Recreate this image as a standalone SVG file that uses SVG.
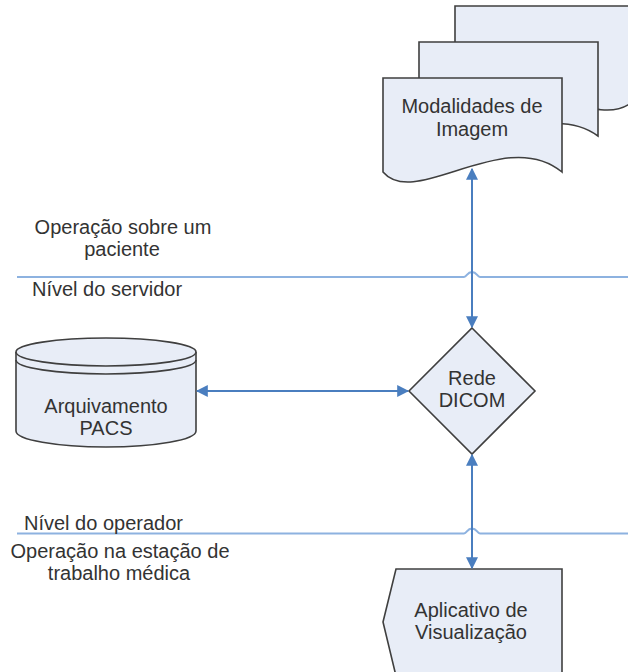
<svg xmlns="http://www.w3.org/2000/svg" width="628" height="672" viewBox="0 0 628 672">
<defs>
<style>
.shape{fill:#E8EDF7;stroke:#3F3F3F;stroke-width:1.6}
.lbl{font-family:"Liberation Sans",Arial,sans-serif;font-size:20px;fill:#333333;text-anchor:middle}
.lft{font-family:"Liberation Sans",Arial,sans-serif;font-size:20px;fill:#333333}
.lane{fill:none;stroke:#8DB2E0;stroke-width:2}
.conn{fill:none;stroke:#4A7EBF;stroke-width:2}
</style>
<marker id="ah" viewBox="0 0 10 10" refX="9" refY="5" markerWidth="5.5" markerHeight="5.5" orient="auto-start-reverse" markerUnits="userSpaceOnUse">
<path d="M0,0 L10,5 L0,10 Z" fill="#4A7EBF"/>
</marker>
<marker id="ahs" viewBox="0 0 10 10" refX="9" refY="5" markerWidth="12" markerHeight="12" orient="auto-start-reverse" markerUnits="userSpaceOnUse">
<path d="M0,0 L10,5 L0,10 Z" fill="#4A7EBF"/>
</marker>
</defs>

<g id="lanes">
<path class="lane" d="M17,277 H464 C467,277 467,272 472,272 C477,272 477,277 480,277 H628"/>
<path class="lane" d="M17,533.5 H464 C467,533.5 467,528.5 472,528.5 C477,528.5 477,533.5 480,533.5 H628"/>
</g>

<g id="lane-labels">
<text class="lbl" x="123" y="234">Operação sobre um</text>
<text class="lbl" x="122" y="256">paciente</text>
<text class="lft" x="32" y="296">Nível do servidor</text>
<text class="lft" x="24" y="530">Nível do operador</text>
<text class="lbl" x="120" y="558">Operação na estação de</text>
<text class="lbl" x="119" y="580">trabalho médica</text>
</g>

<g id="modalidades">
<path class="shape" d="M455,6 H634 V100 C598,138 507,53 455,100 Z"/>
<path class="shape" d="M419,42 H598 V136 C541,94 451,174 419,136 Z"/>
<path class="shape" d="M383,78 H562 V172 C505,125 415,210 383,172 Z"/>
<text class="lbl" x="472" y="113">Modalidades de</text>
<text class="lbl" x="472" y="136">Imagem</text>
</g>

<g id="pacs">
<path class="shape" d="M16,352 V431 A90,16 0 0 0 196,431 V352 A90,14 0 0 0 16,352 Z"/>
<path class="shape" d="M16,352 A90,14 0 0 0 196,352" fill="none"/>
<path d="M16,360 A90,14 0 0 0 196,360" fill="none" stroke="#3F3F3F" stroke-width="1.6"/>
<text class="lbl" x="106" y="413">Arquivamento</text>
<text class="lbl" x="106" y="435">PACS</text>
</g>

<g id="dicom">
<path class="shape" d="M472,328 L535,391 L472,454 L409,391 Z"/>
<text class="lbl" x="472" y="385">Rede</text>
<text class="lbl" x="472" y="407">DICOM</text>
</g>

<g id="aplicativo">
<path class="shape" d="M396,569 H562 V676 H396 L383,622 Z"/>
<text class="lbl" x="471" y="617">Aplicativo de</text>
<text class="lbl" x="471" y="639">Visualização</text>
</g>

<g id="connectors">
<path class="conn" d="M472,169 V327" marker-start="url(#ahs)" marker-end="url(#ahs)"/>
<path class="conn" d="M197,391 H408" marker-start="url(#ahs)" marker-end="url(#ahs)"/>
<path class="conn" d="M472,455 V568" marker-start="url(#ahs)" marker-end="url(#ahs)"/>
</g>
</svg>
